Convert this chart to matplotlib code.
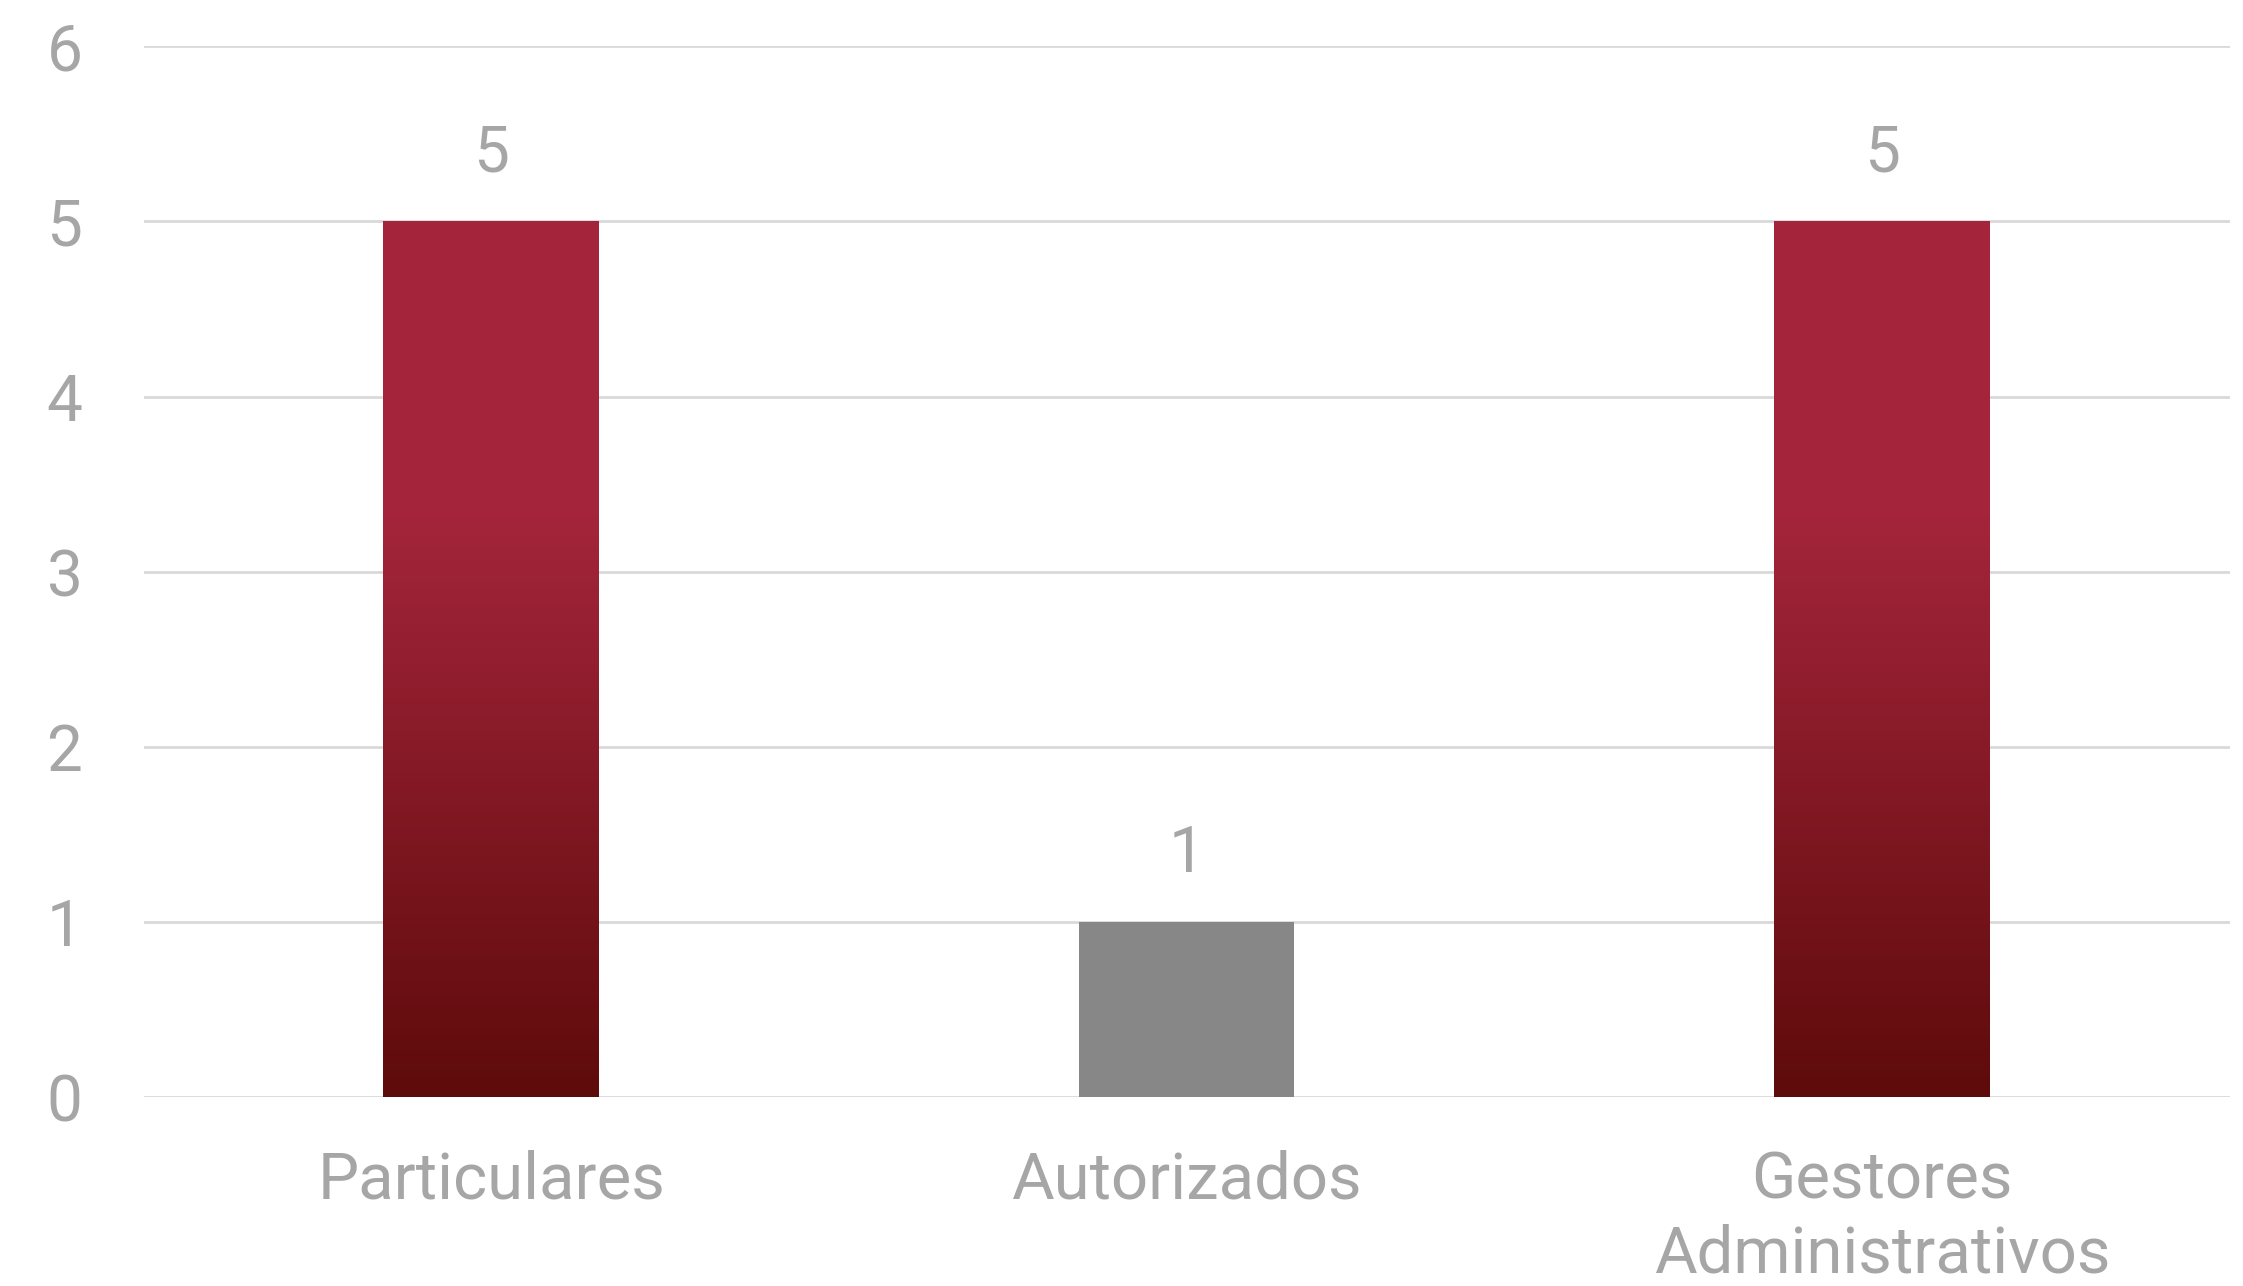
import numpy as np
import matplotlib.pyplot as plt
from matplotlib.colors import LinearSegmentedColormap

# Data
categories = ["Particulares", "Autorizados", "Gestores\nAdministrativos"]
values = [5, 1, 5]
gradient_bar = [True, False, True]

# Colours
top_red = "#A4253B"
bottom_red = "#5E0B0B"
gray_bar = "#878787"
text_gray = "#A6A6A6"
grid_gray = "#D9D9D9"

plt.rcParams['font.family'] = ['Roboto', 'DejaVu Sans']

fig = plt.figure(figsize=(22.43, 12.86), dpi=100)
ax = fig.add_axes([0.064, 0.147, 0.93, 0.817])

x = np.arange(len(categories))
width = 0.31
bars = ax.bar(x, values, width=width, color=[top_red if g else gray_bar for g in gradient_bar],
              zorder=3)

# gradient fill for the red bars: solid on top, darkening below ~3.3
cmap = LinearSegmentedColormap.from_list("redgrad", [bottom_red, top_red])
ys = np.linspace(0, 1, 256)
for bar, g in zip(bars, gradient_bar):
    if not g:
        continue
    x0, y0 = bar.get_x(), bar.get_y()
    w, h = bar.get_width(), bar.get_height()
    vals = np.clip((ys * h) / 3.33, 0, 1).reshape(-1, 1)
    im = ax.imshow(vals, cmap=cmap, vmin=0, vmax=1, origin="lower", aspect="auto",
                   extent=[x0, x0 + w, y0, y0 + h], zorder=4, interpolation="bilinear")
    im.set_clip_path(bar)
    bar.set_facecolor("none")

# data labels
for xi, v in zip(x, values):
    ax.text(xi, v + 0.21, str(v), ha="center", va="bottom", fontsize=46,
            color=text_gray)

ax.set_xlim(-0.5, 2.5)
ax.set_ylim(0, 6)
ax.set_yticks(range(0, 7))
ax.set_xticks(x)
ax.set_xticklabels(categories, fontsize=47, color=text_gray, linespacing=1.25)
for lbl in ax.get_yticklabels():
    lbl.set_fontsize(46)
    lbl.set_color(text_gray)

ax.tick_params(axis="both", length=0)
ax.tick_params(axis="y", pad=44)
ax.tick_params(axis="x", pad=38)
ax.grid(axis="y", color=grid_gray, linewidth=2, zorder=0)
for s in ax.spines.values():
    s.set_visible(False)

fig.savefig("out.png", dpi=100, facecolor="white")
